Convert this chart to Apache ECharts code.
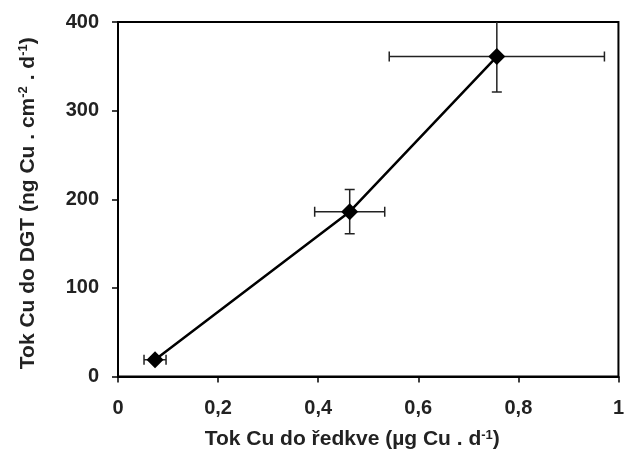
<!DOCTYPE html>
<html>
<head>
<meta charset="utf-8">
<script src="https://cdn.jsdelivr.net/npm/echarts@6/dist/echarts.min.js"></script>
<style>
  html, body { margin: 0; padding: 0; background: #fff; }
  #chart { width: 627px; height: 455px; }
</style>
</head>
<body>
<div id="chart"></div>
<script>
// radish uptake flux vs DGT flux
const xVals = [0.074, 0.463, 0.757];
const yVals = [19, 186, 361];
const xErr = [0.022, 0.07, 0.215];
const yErr = [3, 25, 40];

const xTicks = ["0", "0,2", "0,4", "0,6", "0,8", "1"];

const points = xVals.map((x, i) => [x, yVals[i]]);
const errRows = xVals.map((x, i) => [x, yVals[i], xErr[i], yErr[i]]);

const chart = echarts.init(document.getElementById("chart"));
const font = "Liberation Sans, Arial, sans-serif";

const cap = 5;
const errStyle = { stroke: "#222", lineWidth: 1.5 };
const supStyle = { fontSize: 13, fontWeight: "bold", color: "#222", verticalAlign: "top", padding: [0, 0, 9, 0] };

chart.setOption({
	animation: false,
	backgroundColor: "#fff",
	textStyle: { fontFamily: font },
	grid: {
		show: true,
		left: 118,
		right: 8,
		top: 22,
		bottom: 78,
		borderColor: "#000",
		borderWidth: 2,
		backgroundColor: "transparent",
	},
	xAxis: {
		type: "value",
		min: 0,
		max: 1,
		interval: 0.2,
		name: "Tok Cu do ředkve (µg Cu . d{sup|-1})",
		nameLocation: "middle",
		nameGap: 52,
		nameTextStyle: {
			fontFamily: font,
			fontSize: 21,
			fontWeight: "bold",
			color: "#222",
			padding: [0, 32, 0, 0],
			rich: { sup: supStyle },
		},
		axisLine: { lineStyle: { color: "#000", width: 2 } },
		axisTick: { show: true, length: 6, lineStyle: { color: "#000", width: 1.5 } },
		splitLine: { show: false },
		axisLabel: {
			margin: 22,
			fontFamily: font,
			fontSize: 20,
			fontWeight: "bold",
			color: "#222",
			formatter: (v) => xTicks[Math.round(v / 0.2)],
		},
	},
	yAxis: {
		type: "value",
		min: 0,
		max: 400,
		interval: 100,
		name: "Tok Cu do DGT (ng Cu . cm{sup|-2} . d{sup|-1})",
		nameLocation: "middle",
		nameGap: 79,
		nameTextStyle: {
			fontFamily: font,
			fontSize: 21,
			fontWeight: "bold",
			color: "#222",
			padding: [0, 8, 0, 0],
			rich: { sup: supStyle },
		},
		axisLine: { show: true, lineStyle: { color: "#000", width: 2 } },
		axisTick: { show: true, length: 6, lineStyle: { color: "#000", width: 1.5 } },
		splitLine: { show: false },
		axisLabel: {
			margin: 19,
			fontFamily: font,
			fontSize: 20,
			fontWeight: "bold",
			color: "#222",
		},
	},
	series: [
		{
			type: "custom",
			clip: true,
			data: errRows,
			z: 1,
			renderItem: (params, api) => {
				const x = api.value(0);
				const y = api.value(1);
				const dx = api.value(2);
				const dy = api.value(3);
				const l = api.coord([x - dx, y]);
				const r = api.coord([x + dx, y]);
				const t = api.coord([x, y + dy]);
				const b = api.coord([x, y - dy]);
				return {
					type: "group",
					children: [
						{ type: "line", shape: { x1: l[0], y1: l[1], x2: r[0], y2: r[1] }, style: errStyle },
						{ type: "line", shape: { x1: l[0], y1: l[1] - cap, x2: l[0], y2: l[1] + cap }, style: errStyle },
						{ type: "line", shape: { x1: r[0], y1: r[1] - cap, x2: r[0], y2: r[1] + cap }, style: errStyle },
						{ type: "line", shape: { x1: t[0], y1: t[1], x2: b[0], y2: b[1] }, style: errStyle },
						{ type: "line", shape: { x1: t[0] - cap, y1: t[1], x2: t[0] + cap, y2: t[1] }, style: errStyle },
						{ type: "line", shape: { x1: b[0] - cap, y1: b[1], x2: b[0] + cap, y2: b[1] }, style: errStyle },
					],
				};
			},
		},
		{
			type: "line",
			data: points,
			z: 2,
			symbol: "diamond",
			symbolSize: 17,
			lineStyle: { color: "#000", width: 2.5 },
			itemStyle: { color: "#000" },
		},
	],
});
</script>
</body>
</html>
